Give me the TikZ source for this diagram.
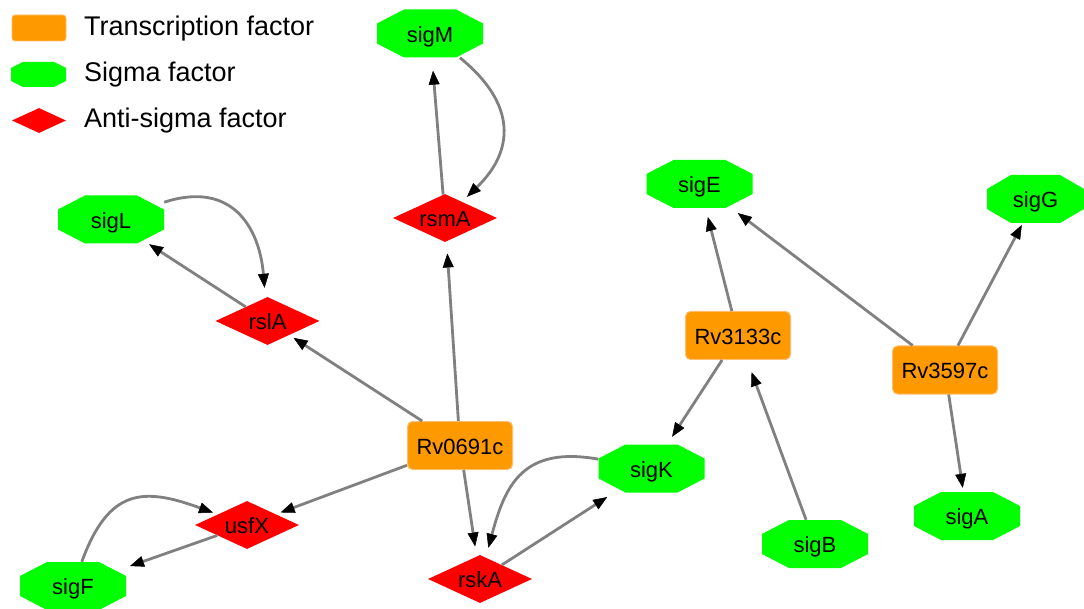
\documentclass[tikz,border=0pt]{standalone}
\usepackage{fontspec}
\setmainfont{Liberation Sans}
\usetikzlibrary{arrows.meta,shapes.geometric}
\definecolor{sigcol}{RGB}{0,255,0}
\definecolor{tfcol}{RGB}{255,153,0}
\definecolor{tfborder}{RGB}{255,190,110}
\definecolor{antcol}{RGB}{255,0,0}
\definecolor{edgecol}{RGB}{128,128,128}
\newcommand{\octfill}[6]{\fill[sigcol] (#1-#3+#5,#2-#4) -- (#1+#3-#5,#2-#4) -- (#1+#3,#2-#4+#6) -- (#1+#3,#2+#4-#6) -- (#1+#3-#5,#2+#4) -- (#1-#3+#5,#2+#4) -- (#1-#3,#2+#4-#6) -- (#1-#3,#2-#4+#6) -- cycle;}
\newcommand{\signode}[4]{\octfill{#2}{#3}{53}{24}{27}{14}\node[sigbox] (#1) at (#2,#3) {#4};}
\begin{document}
\begin{tikzpicture}[x=1pt,y=-1pt,
  lab/.style={font=\fontsize{22}{26}\selectfont, text height=17.8pt, text depth=0pt, inner sep=0pt},
  legtext/.style={font=\fontsize{27}{31}\selectfont, inner sep=0pt, anchor=base west},
  sigbox/.style={lab, rectangle, minimum width=106pt, minimum height=48pt},
  tfbox/.style={lab, rectangle, rounded corners=5pt, fill=tfcol, draw=tfborder, line width=1pt, minimum width=105pt, minimum height=48pt},
  antibox/.style={lab, diamond, aspect=2.17, fill=antcol, minimum width=104pt, minimum height=48pt},
  edge/.style={draw=edgecol, line width=2.8pt, shorten >=8pt, -{Triangle[length=14pt,width=11pt,color=black,line width=0.5pt]}},
]
\useasboundingbox (0,0) rectangle (1084,609);
% legend
\node[fill=tfcol, draw=tfborder, line width=0.8pt, rounded corners=3pt, minimum width=54pt, minimum height=26pt, inner sep=0pt] (legtf) at (39,28) {};
\octfill{38.5}{74.5}{27.5}{12.5}{12}{6}
\node[minimum width=55pt, minimum height=25pt, inner sep=0pt] (legsig) at (38.5,74.5) {};
\node[diamond, fill=antcol, aspect=2.16, minimum width=54pt, minimum height=25pt, inner sep=0pt] (legasf) at (39,120.5) {};
\node[legtext] (legtftext) at (84,36) {Transcription factor};
\node[legtext] (legsigtext) at (84,82) {Sigma factor};
\node[legtext] (legasftext) at (84,128) {Anti-sigma factor};
% nodes
\signode{sigM}{430}{33.5}{sigM}
\node[antibox] (rsmA) at (445,218) {rsmA};
\signode{sigL}{111}{219.5}{sigL}
\node[antibox] (rslA) at (267.5,321) {rslA};
\node[tfbox] (Rv0691c) at (460,445.5) {Rv0691c};
\node[antibox] (usfX) at (247,525) {usfX};
\signode{sigF}{73}{586}{sigF}
\node[antibox] (rskA) at (480,579) {rskA};
\signode{sigK}{651.5}{468.5}{sigK}
\node[tfbox] (Rv3133c) at (738,335.5) {Rv3133c};
\signode{sigE}{699.5}{184}{sigE}
\octfill{1035.5}{199}{48.5}{24}{24}{14}
\node[sigbox, minimum width=97pt] (sigG) at (1035.5,199) {sigG};
\node[tfbox] (Rv3597c) at (945,370) {Rv3597c};
\signode{sigA}{967}{516}{sigA}
\signode{sigB}{815}{544}{sigB}
% edges
\draw[edge, shorten >=13pt] (rsmA) -- (sigM);
\draw[edge, shorten >=7pt] (sigM) to[out=-39, in=44, looseness=1.3] (rsmA);
\draw[edge, shorten >=12pt] (Rv0691c) -- (rsmA);
\draw[edge, shorten >=5pt] (Rv0691c) -- (rslA);
\draw[edge, shorten >=1pt] (rslA) -- (sigL);
\draw[edge, shorten >=10pt] (sigL) to[out=18, in=95, looseness=1.3] (rslA);
\draw[edge, shorten >=5pt] (Rv0691c) -- (usfX);
\draw[edge, shorten >=4pt] (usfX) -- (sigF);
\draw[edge, shorten >=5pt] (sigF) to[out=70, in=160, looseness=1.4] (usfX);
\draw[edge, shorten >=10pt] (Rv0691c) -- (rskA);
\draw[edge, shorten >=10pt] (sigK) to[out=170, in=75, looseness=1.3] (rskA);
\draw[edge, shorten >=8pt] (rskA) -- (sigK);
\draw[edge, shorten >=9pt] (Rv3133c) -- (sigK);
\draw[edge, shorten >=9pt] (Rv3133c) -- (sigE);
\draw[edge, shorten >=13pt] (sigB) -- (Rv3133c);
\draw[edge, shorten >=8pt] (Rv3597c) -- (sigE);
\draw[edge, shorten >=2pt] (Rv3597c) -- (sigG);
\draw[edge, shorten >=4pt] (Rv3597c) -- (sigA);
\end{tikzpicture}
\end{document}
